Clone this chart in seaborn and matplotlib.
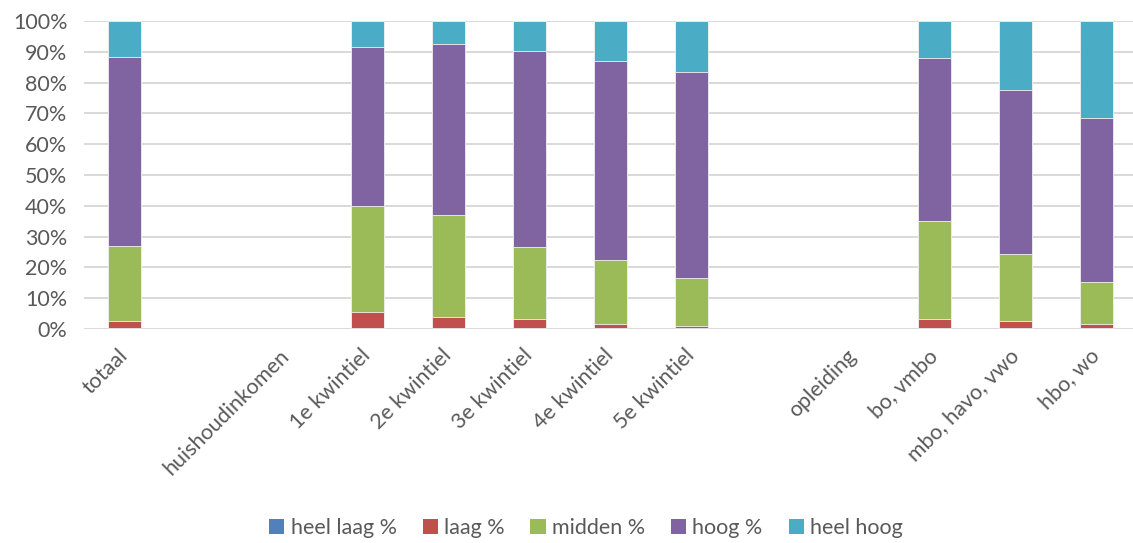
import numpy as np
import pandas as pd
import matplotlib
matplotlib.use("Agg")
import matplotlib.pyplot as plt
from matplotlib.patches import Patch
from matplotlib.ticker import PercentFormatter
import seaborn as sns

# Category slots along the x axis (empty strings are spacer slots)
categories = ["totaal", "", "huishoudinkomen", "1e kwintiel", "2e kwintiel",
              "3e kwintiel", "4e kwintiel", "5e kwintiel", "", "opleiding",
              "bo, vmbo", "mbo, havo, vwo", "hbo, wo"]

nan = np.nan
heel_laag = [0.2, nan, nan, 0.2, 0.2, 0.2, 0.2, 0.2, nan, nan, 0.2, 0.2, 0.2]
laag      = [2.5, nan, nan, 5.4, 3.6, 3.0, 1.4, 0.9, nan, nan, 3.2, 2.5, 1.4]
midden    = [24.2, nan, nan, 34.4, 33.2, 23.5, 20.8, 15.5, nan, nan, 31.8, 21.5, 13.7]
hoog      = [61.5, nan, nan, 51.7, 55.4, 63.7, 64.6, 66.9, nan, nan, 52.7, 53.5, 53.3]
heel_hoog = [11.6, nan, nan, 8.3, 7.6, 9.6, 13.0, 16.5, nan, nan, 12.1, 22.3, 31.4]

series_names = ["heel laag %", "laag %", "midden %", "hoog %", "heel hoog"]
series_values = [heel_laag, laag, midden, hoog, heel_hoog]
colors = ["#4F81BD", "#C0504D", "#9BBB59", "#8064A2", "#4BACC6"]

sns.set_style("white")
plt.rcParams["font.family"] = ["Lato", "DejaVu Sans"]

fig = plt.figure(figsize=(11.33, 5.43), dpi=100)
ax = fig.add_axes([84 / 1133, 1 - 329 / 543, 1 - 84 / 1133, (329 - 21) / 543])

slots = list(range(len(categories)))
cum = np.cumsum(np.array(series_values, dtype=float), axis=0)

# Stacked bars: draw cumulative totals from the top segment down
for i in range(len(series_names) - 1, -1, -1):
    df = pd.DataFrame({"slot": slots, "value": cum[i]})
    sns.barplot(data=df, x="slot", y="value", order=slots, color=colors[i],
                saturation=1, width=0.405, edgecolor="#f2f2f2", linewidth=0.6,
                ax=ax, zorder=3)

ax.set_xlim(-0.5, 12.45)
ax.set_ylim(0, 100)
ax.set_yticks(np.arange(0, 101, 10))
ax.yaxis.set_major_formatter(PercentFormatter(decimals=0))
ax.grid(axis="y", color="#d9d9d9", linewidth=1.4, zorder=0)
ax.set_axisbelow(True)
for s in ["top", "right", "left", "bottom"]:
    ax.spines[s].set_visible(False)

ax.set_xticks(slots)
ax.set_xticklabels(categories, rotation=45, ha="right", va="center",
                   rotation_mode="anchor")
ax.tick_params(axis="x", length=0, pad=17, labelsize=15.5, labelcolor="#595959")
ax.tick_params(axis="y", length=0, pad=12, labelsize=15.5, labelcolor="#595959")
ax.set_xlabel("")
ax.set_ylabel("")

handles = [Patch(facecolor=c, edgecolor="none") for c in colors]
fig.legend(handles, series_names, loc="center", bbox_to_anchor=(586 / 1133, 1 - 528 / 543),
           ncol=5, frameon=False, fontsize=15.5, handlelength=0.7, handleheight=0.7,
           handletextpad=0.3, columnspacing=1.2, labelcolor="#595959")

fig.savefig("out.png", dpi=100)
